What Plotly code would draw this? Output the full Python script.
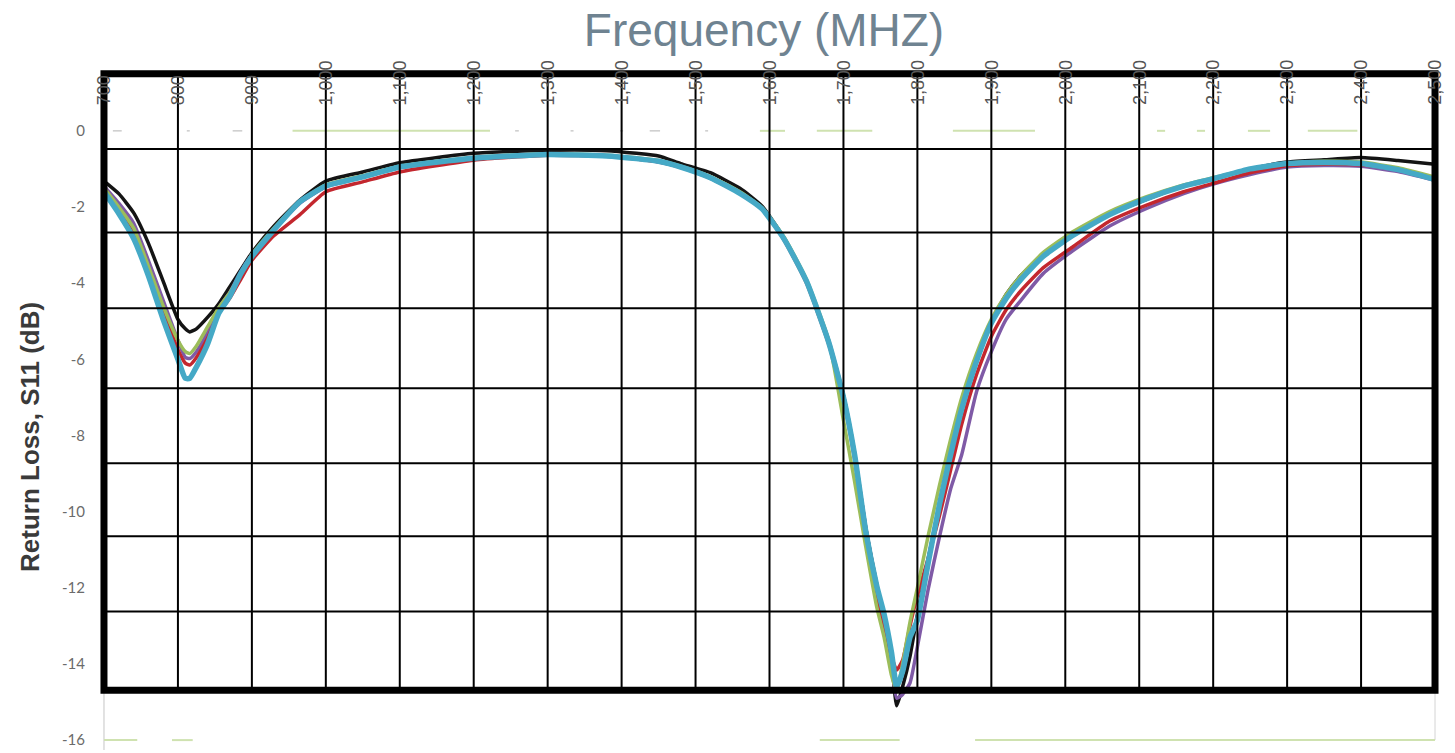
import plotly.graph_objects as go

# ---------------- data ----------------
freq_mhz = [700, 720, 740, 760, 780, 800, 810, 816, 825, 840, 855, 870, 885, 900,
            930, 965, 1000, 1050, 1100, 1200, 1300, 1380, 1420, 1450, 1480, 1520,
            1560, 1590, 1620, 1650, 1680, 1700, 1715, 1730, 1745, 1755, 1765, 1772,
            1780, 1790, 1800, 1815, 1830, 1845, 1860, 1880, 1900, 1920, 1940, 1970,
            2010, 2060, 2110, 2160, 2200, 2250, 2300, 2350, 2400, 2450, 2500]

s11_black = [-1.32, -1.65, -2.15, -2.95, -3.95, -4.95, -5.2, -5.28, -5.2, -4.9, -4.55, -4.1,
             -3.65, -3.2, -2.5, -1.82, -1.32, -1.08, -0.84, -0.59, -0.51, -0.52, -0.59,
             -0.66, -0.86, -1.1, -1.51, -1.98, -2.82, -3.95, -5.55, -6.95, -8.45, -10.4,
             -11.9, -12.8, -13.9, -15.1, -14.6, -13.8, -12.7, -11.2, -9.8, -8.5, -7.3,
             -6.0, -5.0, -4.3, -3.8, -3.25, -2.75, -2.2, -1.8, -1.45, -1.25, -1.0, -0.82,
             -0.76, -0.7, -0.78, -0.88]

s11_purple = [-1.45, -1.9, -2.42, -3.4, -4.45, -5.5, -5.95, -5.98, -5.8, -5.3, -4.65, -4.25,
              -3.7, -3.25, -2.6, -1.9, -1.47, -1.22, -0.97, -0.74, -0.63, -0.67, -0.74,
              -0.82, -0.96, -1.24, -1.64, -2.05, -2.85, -3.95, -5.5, -6.95, -8.5, -10.4,
              -12.0, -12.9, -14.0, -14.9, -14.8, -14.5, -13.55, -12.0, -10.65, -9.4, -8.5,
              -6.85, -5.8, -4.95, -4.45, -3.75, -3.15, -2.5, -2.04, -1.65, -1.4, -1.15,
              -0.95, -0.91, -0.93, -1.07, -1.3]

s11_red = [-1.5, -2.05, -2.6, -3.6, -4.7, -5.75, -6.1, -6.15, -5.95, -5.45, -4.8, -4.4,
           -3.9, -3.4, -2.75, -2.2, -1.6, -1.34, -1.08, -0.77, -0.64, -0.67, -0.74,
           -0.81, -0.96, -1.24, -1.64, -2.05, -2.88, -4.0, -5.6, -7.05, -8.6, -10.5,
           -12.2, -13.0, -13.8, -14.16, -13.9, -13.0, -12.2, -11.2, -10.1, -8.9, -7.7,
           -6.4, -5.4, -4.7, -4.2, -3.6, -3.05, -2.37, -1.95, -1.6, -1.38, -1.1, -0.92,
           -0.88, -0.9, -1.03, -1.25]

s11_green = [-1.5, -2.0, -2.55, -3.55, -4.6, -5.5, -5.8, -5.85, -5.65, -5.15, -4.65, -4.25,
             -3.75, -3.25, -2.55, -1.85, -1.42, -1.18, -0.93, -0.7, -0.6, -0.64, -0.71,
             -0.78, -0.93, -1.2, -1.6, -2.02, -2.8, -3.9, -5.5, -7.6, -9.2, -10.9,
             -12.5, -13.3, -14.3, -14.7, -14.0, -12.9, -12.0, -10.6, -9.3, -8.1, -7.0,
             -5.85, -4.95, -4.3, -3.8, -3.2, -2.65, -2.12, -1.73, -1.42, -1.23, -1.0,
             -0.85, -0.8, -0.82, -0.97, -1.22]

s11_cyan = [-1.6, -2.17, -2.82, -3.8, -4.95, -6.0, -6.5, -6.5, -6.2, -5.6, -4.8, -4.35,
            -3.75, -3.3, -2.6, -1.86, -1.45, -1.21, -0.95, -0.72, -0.62, -0.66, -0.73,
            -0.8, -0.95, -1.23, -1.64, -2.05, -2.85, -3.95, -5.55, -7.0, -8.5, -10.5,
            -11.95, -12.7, -13.7, -14.6, -14.2, -13.3, -12.85, -11.3, -9.8, -8.5, -7.3,
            -6.05, -5.05, -4.4, -3.9, -3.3, -2.75, -2.2, -1.78, -1.45, -1.26, -1.0,
            -0.86, -0.83, -0.86, -1.02, -1.28]

y_tick_values = [0, -2, -4, -6, -8, -10, -12, -14, -16]
y_tick_labels = ["0", "-2", "-4", "-6", "-8", "-10", "-12", "-14", "-16"]

x_tick_values = [700, 800, 900, 1000, 1100, 1200, 1300, 1400, 1500, 1600, 1700,
                 1800, 1900, 2000, 2100, 2200, 2300, 2400, 2500]
x_tick_labels = ["700", "800", "900", "1,000", "1,100", "1,200", "1,300", "1,400",
                 "1,500", "1,600", "1,700", "1,800", "1,900", "2,000", "2,100",
                 "2,200", "2,300", "2,400", "2,500"]

# overlay grid (hand-drawn black grid on top of the chart)
grid_x_min, grid_x_max = 700, 2500
grid_y_top, grid_y_bottom = 1.5, -14.69
grid_h_levels = [-0.48, -2.67, -4.66, -6.76, -8.73, -10.65, -12.62]
grid_v_levels = [800, 900, 1000, 1100, 1200, 1300, 1400, 1500, 1600, 1700,
                 1800, 1900, 2000, 2100, 2200, 2300, 2400]

# faint remnants of the underlying chart
green_dashes_top = [(955, 1222), (1587, 1621), (1664, 1739), (1848, 1959),
                    (2124, 2135), (2178, 2189), (2247, 2277), (2328, 2395)]
gray_dashes_top = [(712, 724), (812, 816), (874, 887), (1256, 1261), (1331, 1335),
                   (1398, 1402), (1438, 1452), (1513, 1517)]
green_dashes_bottom = [(700, 745), (792, 820), (1668, 1776), (1878, 2500)]

# ---------------- figure ----------------
series = [
    ("black", s11_black, "#141414", 3.5),
    ("purple", s11_purple, "#7f5aa6", 3.5),
    ("red", s11_red, "#c3272e", 3.5),
    ("green", s11_green, "#9cbd5a", 3.5),
    ("cyan", s11_cyan, "#45a9c6", 5.5),
]

fig = go.Figure()
for name, vals, color, w in series:
    fig.add_trace(go.Scatter(
        x=freq_mhz, y=vals, mode="lines", name=name,
        line=dict(color=color, width=w, shape="spline", smoothing=0.5),
        showlegend=False, hoverinfo="skip",
    ))

shapes = []
# faint underlying axis lines
shapes.append(dict(type="line", xref="x", yref="y", x0=700, x1=700, y0=-16.26, y1=1.5,
                   line=dict(color="#d9d9d9", width=1.5), layer="below"))
shapes.append(dict(type="line", xref="x", yref="y", x0=2500, x1=2500, y0=-16.0, y1=-14.69,
                   line=dict(color="#e3e3e3", width=1.5), layer="below"))
for a, b in green_dashes_top:
    shapes.append(dict(type="line", xref="x", yref="y", x0=a, x1=b, y0=0, y1=0,
                       line=dict(color="#cfe2b0", width=2), layer="below"))
for a, b in gray_dashes_top:
    shapes.append(dict(type="line", xref="x", yref="y", x0=a, x1=b, y0=0, y1=0,
                       line=dict(color="#cccccc", width=1.5), layer="below"))
for a, b in green_dashes_bottom:
    shapes.append(dict(type="line", xref="x", yref="y", x0=a, x1=b, y0=-16, y1=-16,
                       line=dict(color="#cfe2b0", width=2), layer="below"))
# black overlay grid
for xv in grid_v_levels:
    shapes.append(dict(type="line", xref="x", yref="y", x0=xv, x1=xv,
                       y0=grid_y_bottom, y1=grid_y_top,
                       line=dict(color="#000000", width=2), layer="above"))
for yv in grid_h_levels:
    shapes.append(dict(type="line", xref="x", yref="y", x0=grid_x_min, x1=grid_x_max,
                       y0=yv, y1=yv, line=dict(color="#000000", width=2), layer="above"))
shapes.append(dict(type="rect", xref="x", yref="y", x0=grid_x_min, x1=grid_x_max,
                   y0=grid_y_bottom, y1=grid_y_top,
                   line=dict(color="#000000", width=7), fillcolor="rgba(0,0,0,0)",
                   layer="above"))

annotations = []
for xv, lab in zip(x_tick_values, x_tick_labels):
    annotations.append(dict(
        x=xv, y=0.62, xref="x", yref="y", text=lab, showarrow=False,
        textangle=-90, xanchor="center", yanchor="bottom",
        font=dict(family="Liberation Sans, Arial, sans-serif", size=18, color="#555555"),
    ))
# y-axis title (placed where it sits in the reference)
annotations.append(dict(
    x=(30 - 94) / 1351, y=(750 - 437) / 690, xref="paper", yref="paper",
    text="<b>Return Loss, S11 (dB)</b>", showarrow=False, textangle=-90,
    xanchor="center", yanchor="middle",
    font=dict(family="Liberation Sans, Arial, sans-serif", size=26, color="#3a3a3a"),
))

fig.update_layout(
    width=1455, height=753,
    margin=dict(l=94, r=10, t=60, b=3, pad=0),
    paper_bgcolor="white", plot_bgcolor="white",
    shapes=shapes, annotations=annotations,
    title=dict(text="Frequency (MHZ)", x=764 / 1455, y=1 - 30 / 753,
               xanchor="center", yanchor="middle",
               font=dict(family="Liberation Sans, Arial, sans-serif", size=46,
                         color="#6f8391")),
    xaxis=dict(range=[686.5, 2513.5], showgrid=False, zeroline=False,
               showline=False, showticklabels=False, ticks=""),
    yaxis=dict(range=[-16.26, 1.86], showgrid=False, zeroline=False, showline=False,
               tickvals=y_tick_values, ticktext=y_tick_labels, ticks="",
               ticklabelstandoff=8,
               tickfont=dict(family="Lato, Liberation Sans, sans-serif", size=15,
                             color="#6b6b6b")),
)

fig.write_html("out.html")
